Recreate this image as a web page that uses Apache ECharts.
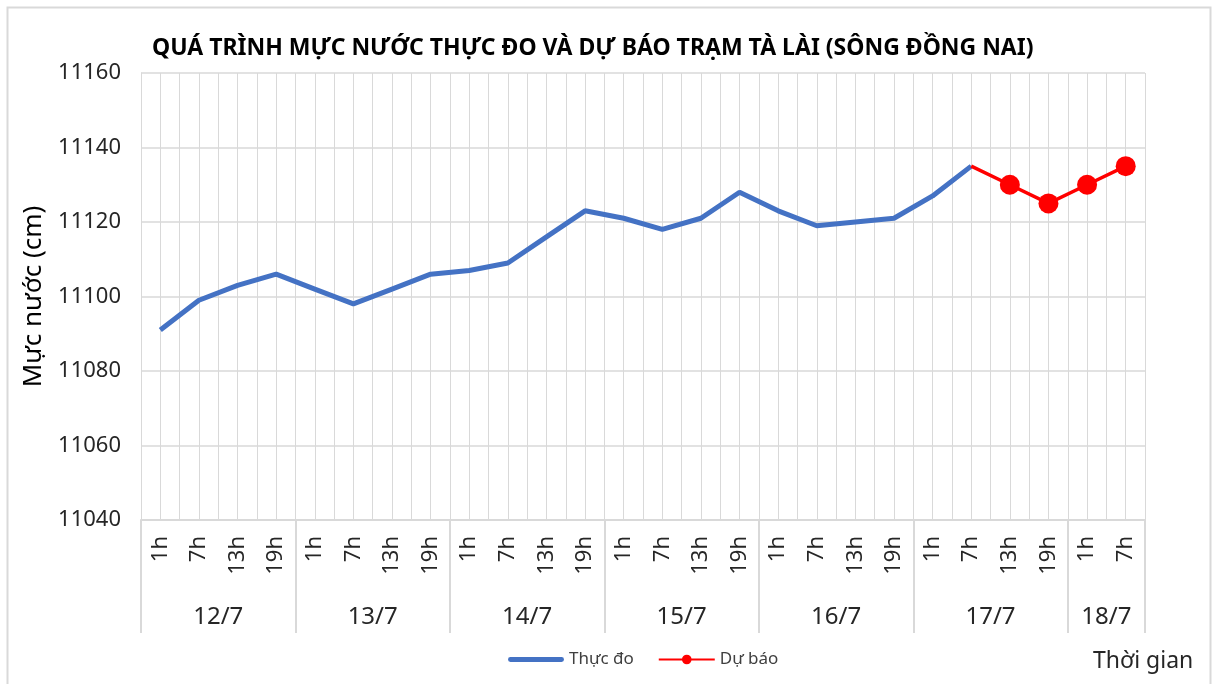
<!DOCTYPE html>
<html>
<head>
<meta charset="utf-8">
<script src="https://cdn.jsdelivr.net/npm/echarts@6/dist/echarts.min.js"></script>
<style>
html, body { margin: 0; padding: 0; background: #fff; }
#chart { width: 1213px; height: 684px; }
</style>
</head>
<body>
<div id="chart"></div>
<script>
// nhãn giờ và ngày
var hours = ['1h','7h','13h','19h','1h','7h','13h','19h','1h','7h','13h','19h',
  '1h','7h','13h','19h','1h','7h','13h','19h','1h','7h','13h','19h','1h','7h'];
var days = ['12/7','13/7','14/7','15/7','16/7','17/7','18/7'];
var dayCounts = [4, 4, 4, 4, 4, 4, 2];

// mực nước thực đo (cm)
var thucDo = [11091, 11099, 11103, 11106, 11102, 11098, 11102, 11106,
  11107, 11109, 11116, 11123, 11121, 11118, 11121, 11128,
  11123, 11119, 11120, 11121, 11127, 11135, null, null, null, null];
// mực nước dự báo (cm), bắt đầu từ điểm thực đo cuối
var duBao = [null, null, null, null, null, null, null, null, null, null,
  null, null, null, null, null, null, null, null, null, null,
  null, 11135, 11130, 11125, 11130, 11135];

var yTicks = [11040, 11060, 11080, 11100, 11120, 11140, 11160];

// vị trí ranh giới và tâm của từng ngày trên trục
var dayEdges = [0], dayCenters = [];
dayCounts.forEach(function (n, i) {
  var start = dayEdges[i];
  dayEdges.push(start + n);
  dayCenters.push(start + n / 2);
});

var halfCats = [];
for (var i = 0; i < hours.length * 2; i++) halfCats.push('');

var fontMain = 'Noto Sans, sans-serif';
var gridColor = '#d9d9d9';

var chart = echarts.init(document.getElementById('chart'));
chart.setOption({
  backgroundColor: '#fff',
  animation: false,
  title: {
    text: 'QUÁ TRÌNH MỰC NƯỚC THỰC ĐO VÀ DỰ BÁO TRẠM TÀ LÀI (SÔNG ĐỒNG NAI)',
    left: 147,
    top: 32,
    textStyle: { fontFamily: fontMain, fontSize: 23, fontWeight: 'bold', color: '#000' }
  },
  legend: {
    bottom: 11,
    left: 503,
    itemWidth: 56,
    itemHeight: 12,
    itemGap: 24,
    textStyle: { fontFamily: fontMain, fontSize: 17, color: '#404040' },
    data: [{ name: 'Thực đo', icon: 'path://M2,0H54A2.5,2.5,0,0,1,54,5H2A2.5,2.5,0,0,1,2,0Z' }, 'Dự báo']
  },
  graphic: [{
    type: 'rect',
    shape: { x: 7.5, y: 7.5, width: 1203, height: 690 },
    style: { fill: 'none', stroke: '#d9d9d9', lineWidth: 2 },
    silent: true
  }, {
    type: 'text',
    left: 1093,
    top: 650,
    style: { text: 'Thời gian', font: '23px ' + fontMain, fill: '#262626' }
  }],
  grid: { left: 141, right: 68, top: 73, bottom: 164 },
  xAxis: [{
    type: 'category',
    data: hours,
    boundaryGap: true,
    axisLine: { show: true, lineStyle: { color: gridColor, width: 2 } },
    axisTick: { show: false },
    splitLine: { show: false },
    axisLabel: {
      interval: 0, rotate: 90, margin: 16,
      fontFamily: fontMain, fontSize: 22, color: '#262626'
    }
  }, {
    // lưới dọc theo nửa khoảng
    type: 'category',
    data: halfCats,
    position: 'bottom',
    boundaryGap: true,
    axisLine: { show: false },
    axisTick: { show: false },
    axisLabel: { show: false },
    splitLine: { show: true, interval: 0, lineStyle: { color: gridColor, width: 1 } }
  }, {
    // trục ngày
    type: 'value',
    position: 'bottom',
    min: 0,
    max: hours.length,
    axisLine: { show: false },
    splitLine: { show: false },
    axisTick: {
      show: true, customValues: dayEdges, length: 113,
      lineStyle: { color: gridColor, width: 2 }
    },
    axisLabel: {
      customValues: dayCenters,
      margin: 85,
      fontFamily: fontMain, fontSize: 24, color: '#262626',
      formatter: function (v) {
        var k = dayCenters.indexOf(v);
        return k >= 0 ? days[k] : '';
      }
    }
  }],
  yAxis: {
    type: 'value',
    min: yTicks[0],
    max: yTicks[yTicks.length - 1],
    interval: 20,
    name: 'Mực nước (cm)',
    nameLocation: 'middle',
    nameGap: 94,
    nameTextStyle: { fontFamily: fontMain, fontSize: 26, color: '#000' },
    axisLine: { show: true, lineStyle: { color: gridColor } },
    axisTick: { show: false },
    axisLabel: {
      margin: 20, fontFamily: fontMain, fontSize: 22, color: '#262626',
      formatter: function (v) { return String(v); }
    },
    splitLine: { lineStyle: { color: gridColor, width: 1.5 } }
  },
  series: [{
    name: 'Thực đo',
    type: 'line',
    xAxisIndex: 0,
    data: thucDo,
    symbol: 'none',
    lineStyle: { color: '#4472C4', width: 5 },
    itemStyle: { color: '#4472C4' },
    z: 3
  }, {
    name: 'Dự báo',
    type: 'line',
    xAxisIndex: 0,
    data: duBao.map(function (v, i) {
      return (i > 0 && duBao[i - 1] === null && v !== null) ? { value: v, symbol: 'none' } : v;
    }),
    symbol: 'circle',
    symbolSize: 20,
    lineStyle: { color: '#FF0000', width: 3.5 },
    itemStyle: { color: '#FF0000' },
    z: 4
  }]
});
</script>
</body>
</html>
